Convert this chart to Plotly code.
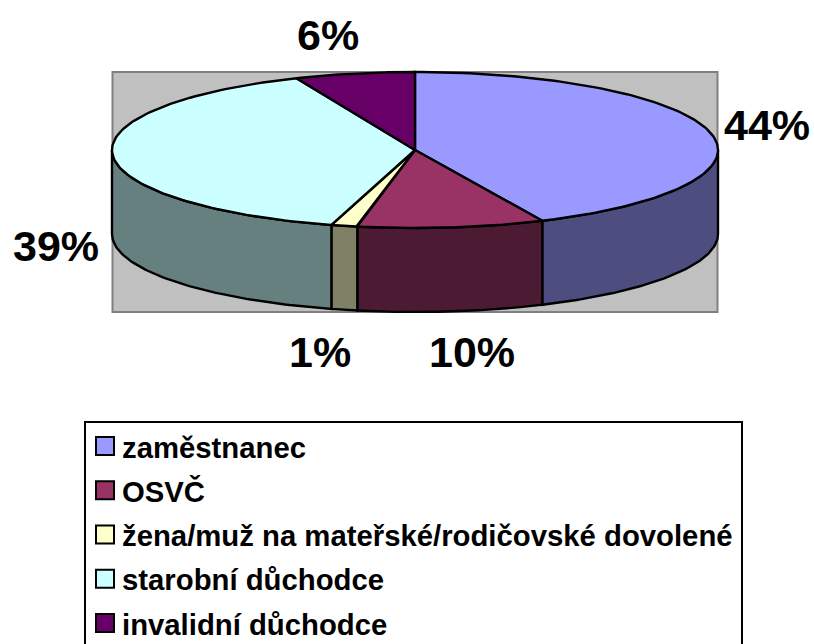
import numpy as np
import plotly.graph_objects as go

categories = ["zaměstnanec", "OSVČ", "žena/muž na mateřské/rodičovské dovolené",
              "starobní důchodce", "invalidní důchodce"]
shares = [43.1, 9.95, 1.4, 39.15, 6.4]
printed = ["44%", "10%", "1%", "39%", "6%"]
top_colors = ["#9999FF", "#993366", "#FFFFCC", "#CCFFFF", "#660066"]
side_colors = ["#4D4D80", "#4D1A33", "#808066", "#668080", "#330033"]
label_xy = [(767, 125), (472, 352), (320, 352), (56, 246), (328, 35)]
legend_rows = [446, 490.2, 534.5, 578.8, 623]

CX, CY, RX, RY, DEPTH = 415, 150, 303, 78, 84
FONT = "Liberation Sans, Arial, sans-serif"
EDGE = 2.4


def ell(t, dy=0):
    return CX + RX * np.sin(t), CY - RY * np.cos(t) + dy


fig = go.Figure()
edges = np.radians(np.concatenate([[0], np.cumsum(shares)]) * 3.6)

# side walls (front half only)
for a, b, col in zip(edges[:-1], edges[1:], side_colors):
    lo, hi = max(a, np.pi / 2), min(b, 3 * np.pi / 2)
    if hi <= lo:
        continue
    t = np.linspace(lo, hi, 80)
    x1, y1 = ell(t)
    x2, y2 = ell(t[::-1], DEPTH)
    fig.add_trace(go.Scatter(x=np.r_[x1, x2, x1[0]], y=np.r_[y1, y2, y1[0]], mode="lines",
                             fill="toself", fillcolor=col, line=dict(color="black", width=EDGE),
                             showlegend=False, hoverinfo="skip"))

# top face
for a, b, col in zip(edges[:-1], edges[1:], top_colors):
    t = np.linspace(a, b, 120)
    x, y = ell(t)
    fig.add_trace(go.Scatter(x=np.r_[CX, x, CX], y=np.r_[CY, y, CY], mode="lines",
                             fill="toself", fillcolor=col, line=dict(color="black", width=EDGE),
                             showlegend=False, hoverinfo="skip"))

# legend: swatches and names
fig.add_trace(go.Scatter(x=[105] * len(categories), y=legend_rows, mode="markers",
                         marker=dict(symbol="square", size=18, color=top_colors,
                                     line=dict(color="black", width=2)),
                         showlegend=False, hoverinfo="skip"))
for name, ry in zip(categories, legend_rows):
    fig.add_annotation(x=120, y=ry + 1, text=f"<b>{name}</b>", showarrow=False, xanchor="left",
                       font=dict(family=FONT, size=29.3, color="black"))

for txt, (lx, ly) in zip(printed, label_xy):
    fig.add_annotation(x=lx, y=ly, text=f"<b>{txt}</b>", showarrow=False,
                       font=dict(family=FONT, size=43, color="black"))

fig.update_layout(
    width=814, height=644, margin=dict(l=0, r=0, t=0, b=0), showlegend=False,
    paper_bgcolor="white", plot_bgcolor="white",
    xaxis=dict(range=[0, 814], visible=False),
    yaxis=dict(range=[644, 0], visible=False),
    shapes=[
        dict(type="rect", layer="below", x0=112.5, x1=717.5, y0=72, y1=312,
             fillcolor="#C0C0C0", line=dict(color="#808080", width=2)),
        dict(type="rect", layer="below", x0=85, x1=742, y0=422, y1=660,
             fillcolor="white", line=dict(color="black", width=2)),
    ],
)
fig.write_html("out.html", config={"displayModeBar": False},
               post_script="document.body.style.margin='0';document.body.style.overflow='hidden';")
